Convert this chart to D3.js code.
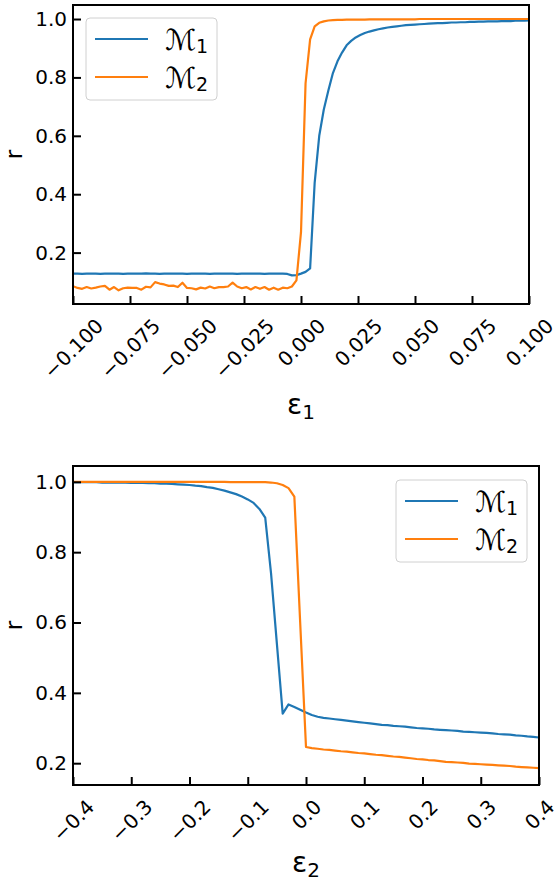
<!DOCTYPE html>
<html>
<head>
<meta charset="utf-8">
<script src="https://cdn.jsdelivr.net/npm/d3@7"></script>
<style>
  body { margin: 0; background: #fff; }
  svg { display: block; }
  text { font-family: "DejaVu Sans", sans-serif; fill: #000; }
</style>
</head>
<body>
<div id="chart"></div>
<script>
// ---- data: top panel, eps1 from -0.1 to 0.1, step 0.002 ----
var eps1 = d3.range(101).map(function(i) { return -0.1 + 0.002 * i; });
var rM1top = [
  0.128,0.128,0.127,0.128,0.128,0.128,0.127,0.128,0.128,0.128,
  0.128,0.127,0.128,0.128,0.128,0.128,0.129,0.128,0.128,0.127,
  0.128,0.128,0.128,0.128,0.128,0.127,0.128,0.128,0.128,0.128,
  0.127,0.128,0.128,0.128,0.128,0.128,0.127,0.128,0.128,0.128,
  0.128,0.128,0.127,0.128,0.128,0.128,0.128,0.127,0.122,0.123,
  0.128,
  0.134,0.146,0.440,0.600,0.690,0.755,0.815,0.855,0.885,0.910,
  0.925,0.937,0.945,0.952,0.957,0.961,0.965,0.968,0.971,0.973,
  0.975,0.977,0.979,0.980,0.981,0.982,0.983,0.984,0.985,0.986,
  0.986,0.987,0.988,0.988,0.989,0.989,0.990,0.990,0.991,0.991,
  0.992,0.992,0.992,0.993,0.993,0.993,0.994,0.994,0.994,0.995
];
var rM2top = [
  0.085,0.079,0.076,0.082,0.077,0.080,0.084,0.086,0.073,0.082,
  0.071,0.078,0.080,0.079,0.079,0.073,0.083,0.081,0.099,0.094,
  0.091,0.086,0.087,0.082,0.097,0.079,0.078,0.074,0.080,0.077,
  0.084,0.078,0.082,0.082,0.084,0.097,0.084,0.078,0.082,0.074,
  0.082,0.076,0.082,0.073,0.080,0.073,0.080,0.078,0.084,0.105,
  0.270,
  0.780,0.930,0.975,0.987,0.992,0.995,0.996,0.997,0.997,0.998,
  0.998,0.998,0.998,0.998,0.999,0.999,0.999,0.999,0.999,0.999,
  0.999,0.999,0.999,0.999,0.999,1.000,1.000,1.000,1.000,1.000,
  1.000,1.000,1.000,1.000,1.000,1.000,1.000,1.000,1.000,1.000,
  1.000,1.000,1.000,1.000,1.000,1.000,1.000,1.000,1.000,1.000
];
var ticksTopX = [-0.1, -0.075, -0.05, -0.025, 0, 0.025, 0.05, 0.075, 0.1];

// ---- data: bottom panel, eps2 from -0.4 to 0.4, step 0.01 ----
var eps2 = d3.range(81).map(function(i) { return -0.4 + 0.01 * i; });
var rM1bot = [
  0.999,0.999,0.999,0.999,0.999,0.998,0.998,0.998,0.998,0.998,
  0.997,0.997,0.997,0.996,0.996,0.995,0.995,0.994,0.993,0.992,
  0.991,0.989,0.988,0.985,0.983,0.979,0.975,0.970,0.965,0.958,
  0.950,0.940,0.923,0.898,0.740,0.540,0.341,0.367,0.360,0.352,
  0.344,0.337,0.332,0.329,0.327,0.325,0.323,0.321,0.319,0.317,
  0.315,0.313,0.311,0.309,0.308,0.306,0.305,0.304,0.302,0.300,
  0.299,0.298,0.296,0.295,0.294,0.293,0.292,0.290,0.289,0.288,
  0.287,0.286,0.285,0.283,0.282,0.281,0.279,0.278,0.276,0.275,
  0.273
];
var rM2bot = [
  1.000,1.000,1.000,1.000,1.000,1.000,1.000,1.000,1.000,1.000,
  1.000,1.000,1.000,1.000,1.000,1.000,1.000,1.000,1.000,1.000,
  1.000,1.000,1.000,1.000,1.000,1.000,1.000,0.999,0.999,0.999,
  0.999,0.999,0.999,0.999,0.998,0.996,0.991,0.982,0.958,0.600,
  0.246,0.243,0.241,0.239,0.238,0.236,0.234,0.233,0.231,0.229,
  0.228,0.226,0.224,0.223,0.221,0.219,0.218,0.216,0.214,0.212,
  0.211,0.209,0.208,0.206,0.204,0.203,0.202,0.201,0.199,0.198,
  0.197,0.196,0.195,0.194,0.193,0.192,0.190,0.189,0.188,0.187,
  0.186
];
var ticksBotX = [-0.4, -0.3, -0.2, -0.1, 0, 0.1, 0.2, 0.3, 0.4];

var ticksY = [0.2, 0.4, 0.6, 0.8, 1.0];
var seriesNames = ["1", "2"];
var colors = ["#1f77b4", "#ff7f0e"];

var svg = d3.select("#chart").append("svg")
  .attr("width", 555)
  .attr("height", 882);

function panel(o) {
  var x = d3.scaleLinear().domain(o.xDomain).range([o.left, o.right]);
  var y = d3.scaleLinear().domain(o.yDomain).range([o.bottom, o.top]);
  var g = svg.append("g");

  g.append("clipPath").attr("id", o.id)
    .append("rect")
    .attr("x", o.left).attr("y", o.top)
    .attr("width", o.right - o.left).attr("height", o.bottom - o.top);

  var line = d3.line()
    .x(function(d) { return x(d[0]); })
    .y(function(d) { return y(d[1]); });

  o.series.forEach(function(s, k) {
    g.append("path")
      .datum(o.xs.map(function(v, i) { return [v, s[i]]; }))
      .attr("clip-path", "url(#" + o.id + ")")
      .attr("fill", "none")
      .attr("stroke", colors[k])
      .attr("stroke-width", 2.2)
      .attr("stroke-linejoin", "round")
      .attr("d", line);
  });

  // x axis, ticks pointing inward
  var fs = 20;
  var xa = g.append("g")
    .attr("transform", "translate(0," + o.bottom + ")")
    .call(d3.axisBottom(x).tickValues(o.xTicks).tickFormat(d3.format(o.xFmt)).tickSize(-8));
  xa.select(".domain").remove();
  xa.selectAll(".tick line").attr("stroke", "#000").attr("stroke-width", 2);
  xa.selectAll(".tick text")
    .attr("y", null)
    .attr("dy", "0.35em")
    .attr("text-anchor", "middle")
    .style("font-size", fs + "px")
    .attr("transform", function() {
      var w = this.getComputedTextLength();
      var s = (w + 0.9 * fs) * Math.SQRT1_2;
      return "translate(0," + (12 + s / 2) + ") rotate(-45)";
    });

  // y axis
  var ya = g.append("g")
    .attr("transform", "translate(" + o.left + ",0)")
    .call(d3.axisLeft(y).tickValues(ticksY).tickFormat(d3.format(".1f")).tickSize(-8).tickPadding(6));
  ya.select(".domain").remove();
  ya.selectAll(".tick line").attr("stroke", "#000").attr("stroke-width", 2);
  ya.selectAll(".tick text").style("font-size", fs + "px");

  // frame
  g.append("rect")
    .attr("x", o.left).attr("y", o.top)
    .attr("width", o.right - o.left).attr("height", o.bottom - o.top)
    .attr("fill", "none").attr("stroke", "#000").attr("stroke-width", 2);

  // labels
  var xl = g.append("text")
    .attr("x", (o.left + o.right) / 2)
    .attr("y", o.xLabelY)
    .attr("text-anchor", "middle")
    .style("font-size", "28px")
    .text("ε");
  xl.append("tspan").attr("dy", 5).style("font-size", "20px").text(o.sub);

  g.append("text")
    .attr("transform", "translate(22," + ((o.top + o.bottom) / 2) + ") rotate(-90)")
    .attr("text-anchor", "middle")
    .style("font-size", "23px")
    .text("r");

  // legend
  var lg = g.append("g").attr("transform", "translate(" + o.legend[0] + "," + o.legend[1] + ")");
  lg.append("rect")
    .attr("width", 131).attr("height", 82).attr("rx", 4)
    .attr("fill", "#fff").attr("fill-opacity", 0.8)
    .attr("stroke", "#d0d0d0").attr("stroke-width", 1);
  seriesNames.forEach(function(n, k) {
    lg.append("line")
      .attr("x1", 9).attr("x2", 62)
      .attr("y1", 21 + k * 38).attr("y2", 21 + k * 38)
      .attr("stroke", colors[k]).attr("stroke-width", 2.2);
    var t = lg.append("text")
      .attr("x", 79).attr("y", 32 + k * 38)
      .style("font-size", "29px")
      .text("ℳ");
    t.append("tspan").attr("dy", 3).style("font-size", "19px").text(n);
  });
}

panel({
  id: "clipTop", left: 73, right: 529, top: 5, bottom: 304,
  xDomain: [-0.1, 0.1], yDomain: [0.024, 1.048],
  xs: eps1, series: [rM1top, rM2top],
  xTicks: ticksTopX, xFmt: ".3f", sub: "1", xLabelY: 414,
  legend: [86, 18]
});

panel({
  id: "clipBot", left: 73, right: 539, top: 466, bottom: 785,
  xDomain: [-0.4, 0.4], yDomain: [0.138, 1.045],
  xs: eps2, series: [rM1bot, rM2bot],
  xTicks: ticksBotX, xFmt: ".1f", sub: "2", xLabelY: 872,
  legend: [396, 480]
});
</script>
</body>
</html>
